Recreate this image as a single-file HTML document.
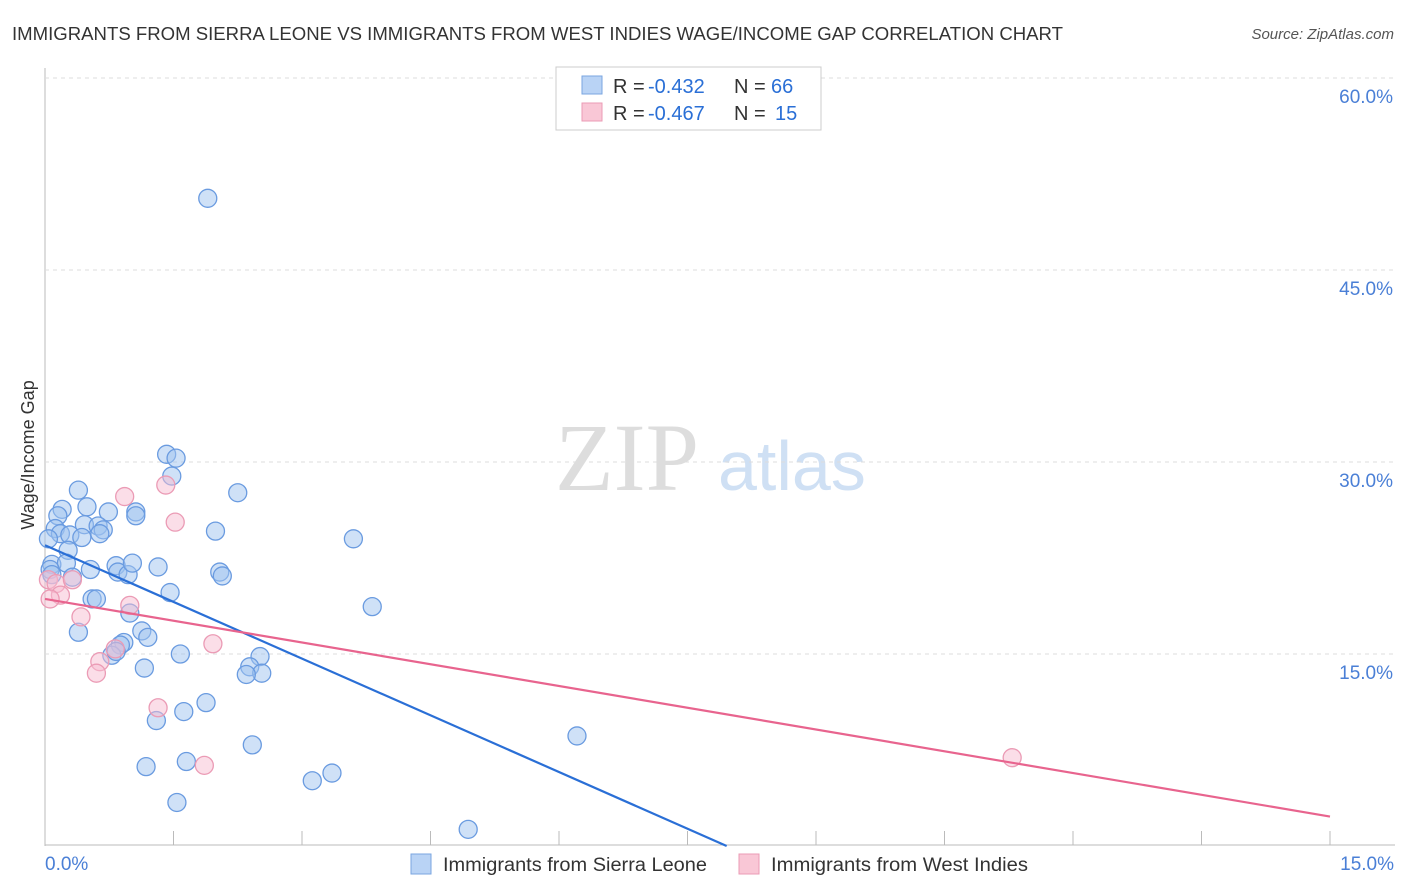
<!DOCTYPE html>
<html><head><meta charset="utf-8"><style>
body{margin:0;background:#fff;font-family:"Liberation Sans",sans-serif;}
svg{display:block}
</style></head><body>
<svg id="c" width="1406" height="892">
<text x="12" y="40" font-size="18" fill="#333" textLength="1051" lengthAdjust="spacingAndGlyphs">IMMIGRANTS FROM SIERRA LEONE VS IMMIGRANTS FROM WEST INDIES WAGE/INCOME GAP CORRELATION CHART</text>
<text x="1394" y="39" font-size="15" fill="#555" font-style="italic" text-anchor="end">Source: ZipAtlas.com</text>
<text x="555" y="490" font-size="96" fill="#ddd" font-family="Liberation Serif">ZIP</text>
<text x="718" y="490" font-size="70" fill="#cfe0f4">atlas</text>
<text x="34" y="455" font-size="18" fill="#333" transform="rotate(-90 34 455)" text-anchor="middle">Wage/Income Gap</text>
<g id="grid"></g><g id="pts"></g><g id="lines"></g>
<g>
<rect x="556" y="67" width="265" height="63" fill="#fff" stroke="#ccc"/>
<rect x="582" y="76" width="20" height="18" fill="#b9d3f5" stroke="#7aa6e0"/>
<rect x="582" y="103" width="20" height="18" fill="#f9c7d6" stroke="#eb9bb5"/>
<text y="93" font-size="20" fill="#333"><tspan x="613">R =</tspan><tspan x="648" fill="#2a6fd6">-0.432</tspan><tspan x="734">N =</tspan><tspan x="771" fill="#2a6fd6">66</tspan></text>
<text y="120" font-size="20" fill="#333"><tspan x="613">R =</tspan><tspan x="648" fill="#2a6fd6">-0.467</tspan><tspan x="734">N =</tspan><tspan x="775" fill="#2a6fd6">15</tspan></text>
</g>
<g>
<rect x="411" y="854" width="20" height="20" fill="#b9d3f5" stroke="#7aa6e0"/>
<text x="443" y="871" font-size="19" fill="#333" textLength="264" lengthAdjust="spacingAndGlyphs">Immigrants from Sierra Leone</text>
<rect x="739" y="854" width="20" height="20" fill="#f9c7d6" stroke="#eb9bb5"/>
<text x="771" y="871" font-size="19" fill="#333" textLength="257" lengthAdjust="spacingAndGlyphs">Immigrants from West Indies</text>
</g>
</svg>
<script>
const yTicks=[15,30,45,60];
const xTickLabels=["0.0%","15.0%"];
const blueX=[1.9,1.42,1.53,1.48,0.39,2.25,0.2,0.49,0.74,1.06,1.06,0.15,0.12,0.46,0.62,0.68,1.99,0.18,0.29,0.43,0.64,3.6,0.27,0.83,0.08,0.25,0.53,0.85,0.97,1.02,1.32,2.04,2.07,0.06,0.32,1.46,0.55,0.6,3.82,0.99,0.39,1.13,1.2,0.92,0.88,0.78,0.83,1.58,2.51,2.39,2.53,2.35,1.16,1.88,1.62,1.3,6.21,2.42,1.65,1.18,3.35,3.12,1.54,4.94,0.04,0.08];
const blueY=[50.6,30.6,30.3,28.9,27.8,27.6,26.3,26.5,26.1,26.1,25.8,25.8,24.8,25.1,25.0,24.7,24.6,24.4,24.3,24.1,24.4,24.0,23.1,21.9,22.0,22.1,21.6,21.4,21.2,22.1,21.8,21.4,21.1,21.6,21.0,19.8,19.3,19.3,18.7,18.2,16.7,16.8,16.3,15.9,15.7,14.9,15.2,15.0,14.8,14.0,13.5,13.4,13.9,11.2,10.5,9.8,8.6,7.9,6.6,6.2,5.7,5.1,3.4,1.3,24.0,21.2];
const pinkX=[0.93,1.41,1.52,0.04,0.13,0.32,0.18,0.06,0.42,0.99,1.96,0.82,0.64,0.6,1.32,1.86,11.29];
const pinkY=[27.3,28.2,25.3,20.8,20.5,20.8,19.6,19.3,17.9,18.8,15.8,15.4,14.4,13.5,10.8,6.3,6.9];
const blueLine=[23.5,-20.8];
const pinkLine=[19.3,2.3];
const NS="http://www.w3.org/2000/svg";
const X=v=>45+v/15*1285, Y=v=>846-v*12.8;
function mk(t,a,p){const e=document.createElementNS(NS,t);for(const k in a)e.setAttribute(k,a[k]);p.appendChild(e);return e;}
const g=document.getElementById('grid');
mk('line',{x1:45,y1:68,x2:45,y2:846,stroke:'#bbb'},g);
mk('line',{x1:45,y1:845,x2:1395,y2:845,stroke:'#bbb'},g);
for(let i=0;i<=10;i++){const l=mk('line',{x1:X(i*1.5),y1:831,x2:X(i*1.5),y2:845,stroke:'#bbb'},g);}
yTicks.forEach(v=>{const l=mk('line',{x1:45,y1:Y(v),x2:1395,y2:Y(v),stroke:'#ddd','stroke-dasharray':'4,4'},g);
const t=mk('text',{x:1393,y:Y(v)+25,'font-size':19,fill:'#4a7fd6','text-anchor':'end'},g);t.textContent=v.toFixed(1)+'%';});
xTickLabels.forEach((s,i)=>{const t=mk('text',{x:i?1394:45,y:870,'font-size':19,fill:'#4a7fd6','text-anchor':i?'end':'start'},g);t.textContent=s;});
const p=document.getElementById('pts');
blueX.forEach((v,i)=>{const c=mk('circle',{cx:X(v),cy:Y(blueY[i]),r:9,fill:'rgba(160,195,240,0.5)',stroke:'#6a9be0','stroke-width':1.3},p);});
pinkX.forEach((v,i)=>{const c=mk('circle',{cx:X(v),cy:Y(pinkY[i]),r:9,fill:'rgba(248,190,210,0.5)',stroke:'#eb9bb5','stroke-width':1.3},p);});
const L=document.getElementById('lines');
const xe=blueLine[0]/(blueLine[0]-blueLine[1])*15;
const b=mk('line',{x1:X(0),y1:Y(blueLine[0]),x2:X(xe),y2:Y(0),stroke:'#2a6fd6','stroke-width':2.2},L);

const pk=mk('line',{x1:X(0),y1:Y(pinkLine[0]),x2:X(15),y2:Y(pinkLine[1]),stroke:'#e8648e','stroke-width':2.2},L);

</script>
</body></html>
